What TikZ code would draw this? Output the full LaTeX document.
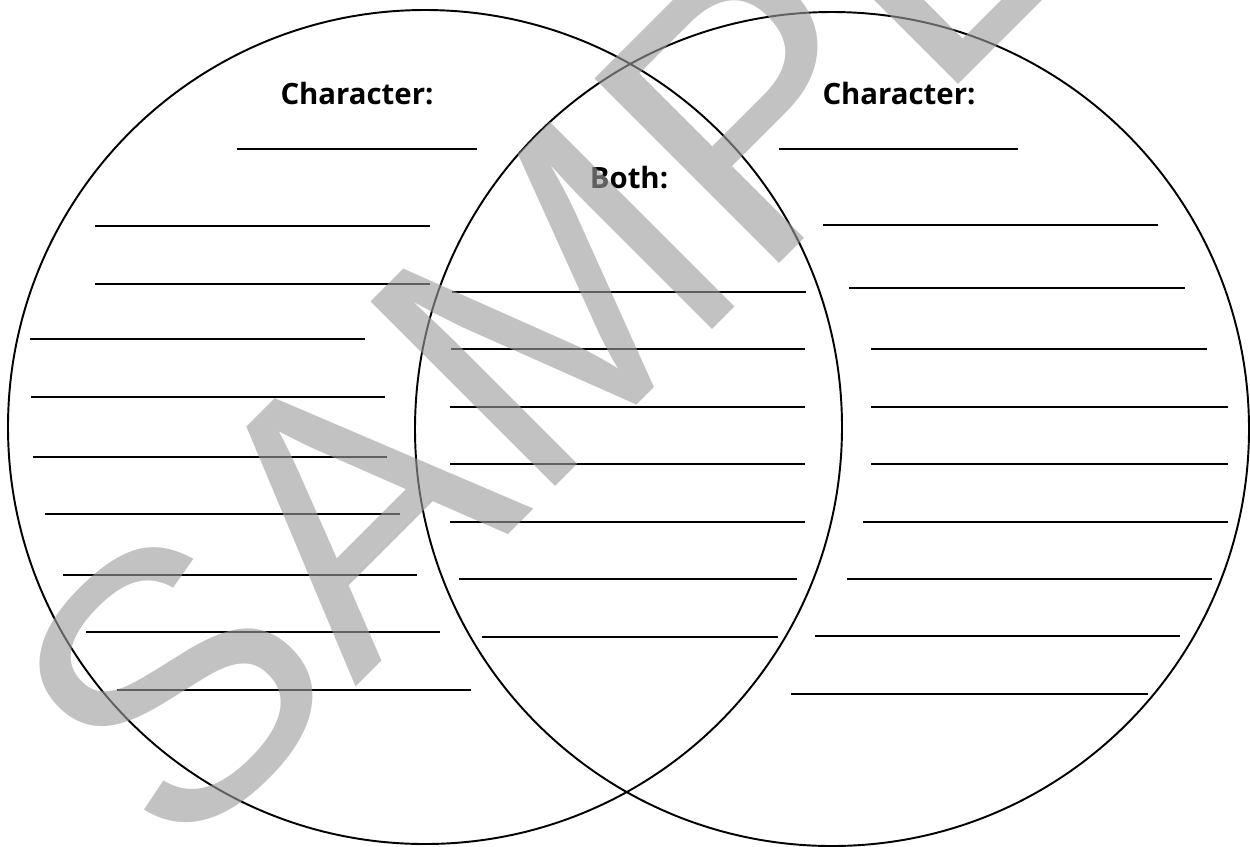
\documentclass[tikz,border=0pt]{standalone}
\usepackage{fontspec}
\setmainfont{Open Sans}
\newfontfamily\markfont{Liberation Sans}
\begin{document}
\begin{tikzpicture}
  [x=0.02cm, y=-0.02cm,
   ring/.style={draw=black, line width=1.1pt},
   blank/.style={draw=black, line width=1.4pt},
   shortblank/.style={draw=black, line width=0.8pt},
   heading/.style={font=\fontsize{16.7}{18}\selectfont\bfseries, inner sep=0pt, anchor=base},
   stamp/.style={font=\markfont\fontsize{216}{216}\selectfont, text=black!39, text opacity=0.62, rotate=45, inner sep=0pt}]

  \useasboundingbox (0,0) rectangle (1250,846);

  % Circles
  \draw[ring] (425,427) circle [radius=417];
  \draw[ring] (832,429) circle [radius=417];

  % Headings
  \node[heading] (charA) at (357,104) {Character:};
  \node[heading] (charB) at (899,104) {Character:};
  \node[heading] (both) at (629,188) {Both:};

  % Name lines
  \draw[shortblank] (237,149) -- (477,149);
  \draw[shortblank] (779,149) -- (1018,149);

  % Writing lines, left circle
  \foreach \y/\a/\b in {226/95/430, 284/95/430, 339/30/365, 397/31/385, 457/33/387,
                        514/45/400, 575/63/417, 632/86/440, 690/117/471}
    \draw[blank] (\a,\y) -- (\b,\y);

  % Writing lines, overlap
  \foreach \y/\a/\b in {292/452/806, 349/451/805, 407/450/805, 464/450/805,
                        522/450/805, 579/459/797, 637/482/778}
    \draw[blank] (\a,\y) -- (\b,\y);

  % Writing lines, right circle
  \foreach \y/\a/\b in {225/823/1158, 288/849/1185, 349/871/1207, 407/871/1228, 464/871/1228,
                        522/863/1228, 579/847/1212, 636/815/1180, 694/791/1148}
    \draw[blank] (\a,\y) -- (\b,\y);

  % Watermark
  \begin{scope}
    \clip (0,0) rectangle (1250,846);
    \node[stamp] (mark) at (628,230) {SAMPLE};
  \end{scope}
\end{tikzpicture}
\end{document}
